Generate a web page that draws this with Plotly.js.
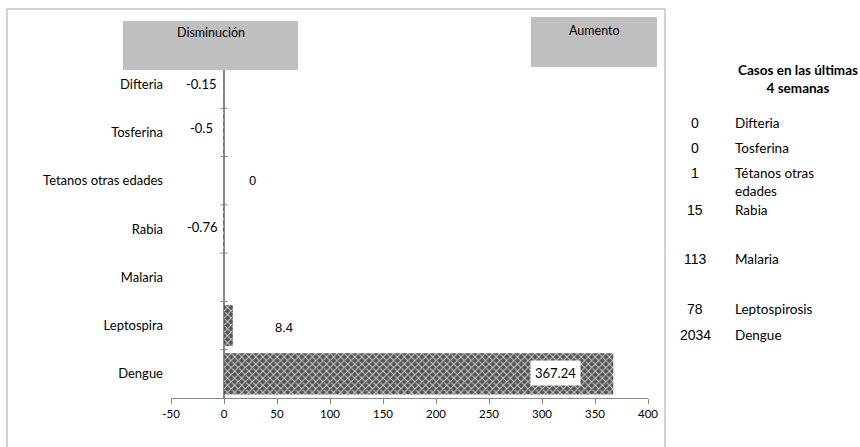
<!DOCTYPE html>
<html>
<head>
<meta charset="utf-8">
<script src="https://cdn.plot.ly/plotly-3.0.1.min.js"></script>
<style>html,body{margin:0;padding:0;background:#fff;}#chart{width:860px;height:447px;}</style>
</head>
<body>
<div id="chart"></div>
<script>
// ---- data ----
const categories = ["Difteria", "Tosferina", "Tetanos otras edades", "Rabia", "Malaria", "Leptospira", "Dengue"];
const changeValues = [-0.15, -0.5, 0, -0.76, null, 8.4, 367.24];
const changeLabels = ["-0.15", "-0.5", "0", "-0.76", "", "8.4", "367.24"];
const caseNames = ["Difteria", "Tosferina", "Tétanos otras<br>edades", "Rabia", "Malaria", "Leptospirosis", "Dengue"];
const caseCounts = ["0", "0", "1", "15", "113", "78", "2034"];
const xTicks = [-50, 0, 50, 100, 150, 200, 250, 300, 350, 400];

// ---- layout helpers (pixel -> paper) ----
const W = 860, H = 447, L = 171, R = 212, T = 60, B = 49;
const PW = W - L - R, PH = H - T - B;
const px = v => (v - L) / PW;
const py = v => (H - B - v) / PH;

const fontCal = "Lato, 'Open Sans', sans-serif";
const fontAri = "'Liberation Sans', Arial, sans-serif";

const trace = {
  type: "bar",
  orientation: "h",
  y: categories,
  x: changeValues,
  marker: {
    color: "#5a5a5a",
    line: {width: 0},
    pattern: {shape: "x", bgcolor: "#555555", fgcolor: "#cfcfcf", size: 5, solidity: 0.35}
  },
  hoverinfo: "skip"
};

// data label annotations (offsets in pixels per label, layout only)
const labelStyle = [
  {anchor: "right", dx: -6, dy: 0},
  {anchor: "right", dx: -10, dy: 4},
  {anchor: "left", dx: 24, dy: 0},
  {anchor: "right", dx: -5, dy: 2},
  null,
  {anchor: "left", dx: 50, dy: -2},
  {anchor: "right", dx: -32, dy: 1, box: true}
];
const annotations = [];
categories.forEach((c, i) => {
  const s = labelStyle[i];
  if (!s || changeValues[i] === null) return;
  const isLast = !!s.box;
  annotations.push({
    x: isLast ? changeValues[i] : 0,
    y: c, xref: "x", yref: "y",
    text: changeLabels[i], showarrow: false,
    xanchor: s.anchor, yanchor: "middle",
    xshift: s.dx, yshift: s.dy,
    font: {family: (isLast || changeValues[i] < 0) ? fontCal : fontAri, size: 13, color: "#000"},
    bgcolor: isLast ? "#ffffff" : "rgba(0,0,0,0)",
    borderpad: isLast ? 4 : 0
  });
});

// header boxes text
annotations.push({xref: "paper", yref: "paper", x: px(211), y: py(33), text: "Disminución", showarrow: false,
  xanchor: "center", yanchor: "middle", font: {family: fontCal, size: 12.5, color: "#000"}});
annotations.push({xref: "paper", yref: "paper", x: px(594), y: py(31), text: "Aumento", showarrow: false,
  xanchor: "center", yanchor: "middle", font: {family: fontCal, size: 12.5, color: "#000"}});

// right side table
annotations.push({xref: "paper", yref: "paper", x: px(798), y: py(79), text: "<b>Casos en las últimas<br>4 semanas</b>",
  showarrow: false, xanchor: "center", yanchor: "middle", align: "center",
  font: {family: fontCal, size: 13.5, color: "#000"}});
const rowY = [123, 148, 173, 210, 259, 309, 335];
caseNames.forEach((n, i) => {
  annotations.push({xref: "paper", yref: "paper", x: px(695), y: py(rowY[i]), text: caseCounts[i], showarrow: false,
    xanchor: "center", yanchor: "middle", font: {family: fontAri, size: 14, color: "#000"}});
  const multi = n.indexOf("<br>") >= 0;
  annotations.push({xref: "paper", yref: "paper", x: px(733), y: py(rowY[i] - (multi ? 10 : 0)), text: n, showarrow: false,
    xanchor: "left", yanchor: multi ? "top" : "middle", align: "left",
    font: {family: fontCal, size: 13.5, color: "#000"}});
});

// shapes: chart frame, y-axis category ticks at x=0, header boxes
const shapes = [
  {type: "rect", xref: "paper", yref: "paper", x0: px(7), x1: px(665), y0: py(470), y1: py(9),
    line: {color: "#a6a6a6", width: 1}, fillcolor: "rgba(0,0,0,0)", layer: "below"}
];
for (let i = 0; i < categories.length - 1; i++) {
  shapes.push({type: "line", xref: "x", yref: "y", x0: -3.5, x1: 3.5, y0: i + 0.5, y1: i + 0.5,
    line: {color: "#868686", width: 1}});
}
shapes.push({type: "rect", xref: "paper", yref: "paper", x0: px(123), x1: px(298), y0: py(70), y1: py(21),
  fillcolor: "#bfbfbf", line: {width: 0}, layer: "above"});
shapes.push({type: "rect", xref: "paper", yref: "paper", x0: px(531), x1: px(657), y0: py(67), y1: py(17),
  fillcolor: "#bfbfbf", line: {width: 0}, layer: "above"});

const layout = {
  width: W, height: H,
  margin: {l: L, r: R, t: T, b: B, pad: 0},
  paper_bgcolor: "#ffffff", plot_bgcolor: "#ffffff",
  showlegend: false,
  bargap: 0.15,
  xaxis: {
    range: [-50, 400], tickvals: xTicks, ticktext: xTicks.map(String),
    ticks: "outside", ticklen: 5, tickcolor: "#868686",
    showline: true, linecolor: "#868686", linewidth: 1,
    zeroline: true, zerolinecolor: "#868686", zerolinewidth: 1.5,
    showgrid: false, fixedrange: true,
    tickfont: {family: fontCal, size: 11.5, color: "#000"}
  },
  yaxis: {
    type: "category", categoryorder: "array", categoryarray: categories,
    range: [categories.length - 0.5, -0.5],
    showline: false, ticks: "", showgrid: false, zeroline: false,
    ticklabelstandoff: 7,
    tickfont: {family: fontCal, size: 13, color: "#000"}, fixedrange: true
  },
  shapes: shapes,
  annotations: annotations
};

Plotly.newPlot("chart", [trace], layout, {displayModeBar: false, staticPlot: true});
</script>
</body>
</html>
